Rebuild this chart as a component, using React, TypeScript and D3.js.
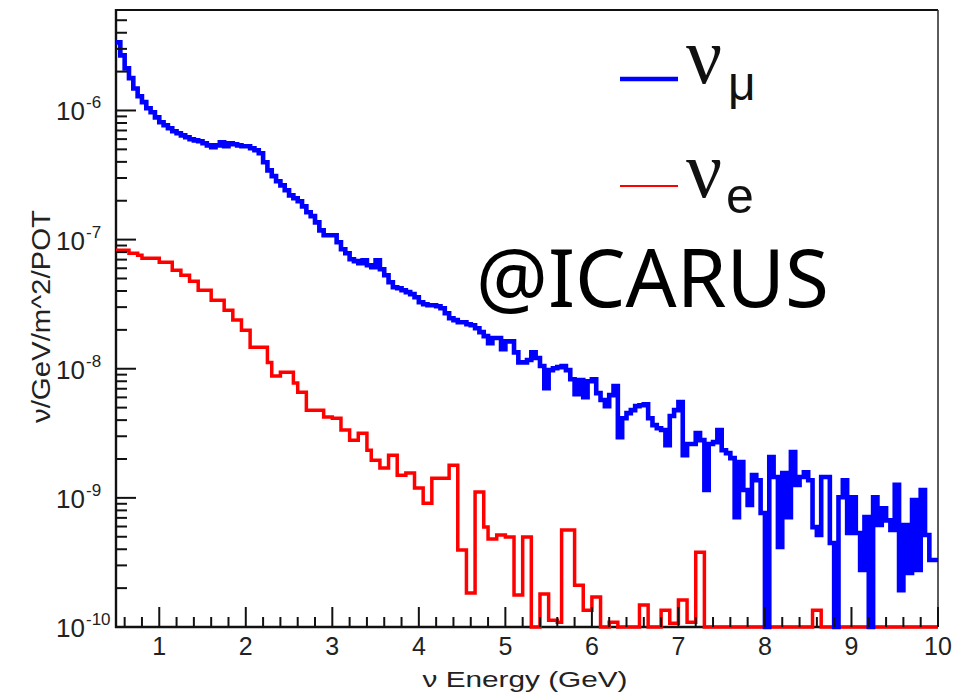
import React from 'react';
import * as d3 from 'd3';

// Histogram binning (GeV)
const BIN_LOW = 0.5;
const BIN_WIDTH = 0.05;

// nu_mu flux per bin (nu/GeV/m^2/POT)
const numuFlux = [
  3.37e-6, 2.67e-6, 2.12e-6, 1.78e-6, 1.48e-6, 1.29e-6, 1.16e-6, 1.04e-6, 9.68e-7, 8.85e-7,
  8.1e-7, 7.68e-7, 7.29e-7, 6.9e-7, 6.66e-7, 6.42e-7, 6.2e-7, 5.98e-7, 5.87e-7, 5.77e-7,
  5.57e-7, 5.37e-7, 5.19e-7, 5.37e-7, 5.67e-7, 5.28e-7, 5.57e-7, 5.47e-7, 5.37e-7, 5.28e-7,
  5.28e-7, 5.1e-7, 4.92e-7, 4.66e-7, 3.97e-7, 3.44e-7, 3.1e-7, 2.83e-7, 2.63e-7, 2.41e-7,
  2.2e-7, 2.09e-7, 1.98e-7, 1.81e-7, 1.63e-7, 1.52e-7, 1.36e-7, 1.18e-7, 1.08e-7, 1.08e-7,
  1.08e-7, 9.55e-8, 8.42e-8, 7.84e-8, 7.05e-8, 6.81e-8, 6.56e-8, 6.93e-8, 6.33e-8, 6.11e-8,
  6.93e-8, 5.9e-8, 5.3e-8, 4.68e-8, 4.28e-8, 4.2e-8, 4.05e-8, 3.92e-8, 3.78e-8, 3.58e-8,
  3.27e-8, 3.16e-8, 3.1e-8, 3.1e-8, 3.05e-8, 2.94e-8, 2.69e-8, 2.46e-8, 2.38e-8, 2.29e-8,
  2.29e-8, 2.21e-8, 2.17e-8, 2.06e-8, 1.92e-8, 1.79e-8, 1.58e-8, 1.73e-8, 1.73e-8, 1.42e-8,
  1.63e-8, 1.63e-8, 1.34e-8, 1.12e-8, 1.12e-8, 1.17e-8, 1.34e-8, 1.21e-8, 1.05e-8, 7.07e-9,
  9.75e-9, 1.01e-8, 1.03e-8, 1.05e-8, 9.75e-9, 8.3e-9, 6.36e-9, 8.17e-9, 6.03e-9, 8.0e-9,
  8.3e-9, 6.47e-9, 5.72e-9, 5.13e-9, 6.25e-9, 7.33e-9, 2.95e-9, 4.14e-9, 4.53e-9, 4.78e-9,
  5.13e-9, 5.22e-9, 5.31e-9, 4.14e-9, 3.66e-9, 3.46e-9, 3.35e-9, 2.56e-9, 4.3e-9, 4.78e-9,
  5.52e-9, 2.14e-9, 2.61e-9, 2.61e-9, 3.17e-9, 2.8e-9, 1.15e-9, 2.61e-9, 2.7e-9, 3.35e-9,
  2.34e-9, 2.22e-9, 2.03e-9, 7.09e-10, 1.89e-9, 1.15e-9, 8.8e-10, 1.5e-9, 1.37e-9, 7.63e-10,
  0, 2.07e-9, 1.45e-9, 4.16e-10, 1.56e-9, 7.09e-10, 2.26e-9, 1.26e-9, 1.45e-9, 1.58e-9,
  1.37e-9, 5.94e-10, 5.16e-10, 1.45e-9, 1.45e-9, 4.47e-10, 0, 1.01e-9, 1.37e-9, 5.34e-10,
  1.01e-9, 5.34e-10, 2.76e-10, 7.09e-10, 0, 1.01e-9, 6.16e-10, 8.32e-10, 6.7e-10, 5.64e-10,
  1.26e-9, 1.93e-10, 6.16e-10, 2.62e-10, 9.6e-10, 2.76e-10, 1.15e-9, 5.16e-10, 3.3e-10, 3.3e-10,
];

// nu_e flux per bin (nu/GeV/m^2/POT)
const nueFlux = [
  8.27e-8, 8.27e-8, 8.27e-8, 7.84e-8, 7.84e-8, 7.57e-8, 7.17e-8, 7.17e-8, 7.17e-8, 7.17e-8,
  6.68e-8, 6.68e-8, 6.68e-8, 5.79e-8, 5.79e-8, 5.3e-8, 5.3e-8, 4.76e-8, 4.76e-8, 4.05e-8,
  4.05e-8, 4.05e-8, 3.39e-8, 3.39e-8, 3.39e-8, 2.84e-8, 2.84e-8, 2.38e-8, 2.38e-8, 1.99e-8,
  1.99e-8, 1.47e-8, 1.47e-8, 1.47e-8, 1.47e-8, 1.12e-8, 8.77e-9, 8.77e-9, 9.4e-9, 9.4e-9,
  9.4e-9, 7.74e-9, 6.58e-9, 6.58e-9, 4.78e-9, 4.78e-9, 4.78e-9, 4.78e-9, 4.22e-9, 4.22e-9,
  4.14e-9, 4.14e-9, 3.35e-9, 3.35e-9, 2.8e-9, 2.8e-9, 3.17e-9, 3.17e-9, 2.34e-9, 1.96e-9,
  1.96e-9, 1.7e-9, 1.7e-9, 2.14e-9, 2.14e-9, 1.5e-9, 1.5e-9, 1.56e-9, 1.56e-9, 1.19e-9,
  1.19e-9, 9.1e-10, 9.1e-10, 1.42e-9, 1.42e-9, 1.42e-9, 1.42e-9, 1.79e-9, 1.79e-9, 3.94e-10,
  3.94e-10, 1.83e-10, 1.83e-10, 1.11e-9, 1.11e-9, 5.94e-10, 4.8e-10, 4.8e-10, 5.16e-10, 5.16e-10,
  4.97e-10, 4.97e-10, 1.77e-10, 1.77e-10, 4.97e-10, 4.97e-10, 0, 0, 1.8e-10, 1.8e-10,
  1.13e-10, 1.13e-10, 1.09e-10, 5.64e-10, 5.64e-10, 5.64e-10, 2.11e-10, 2.11e-10, 1.35e-10, 1.35e-10,
  1.71e-10, 1.71e-10, 0, 0, 1.09e-10, 1.09e-10, 0, 0, 0, 0,
  0, 1.48e-10, 1.48e-10, 0, 0, 0, 1.35e-10, 1.35e-10, 1.07e-10, 1.07e-10,
  1.62e-10, 1.62e-10, 1.09e-10, 1.09e-10, 3.8e-10, 3.8e-10, 0, 0, 0, 0,
  0, 0, 0, 0, 0, 0, 0, 0, 0, 0,
  0, 0, 0, 0, 0, 0, 0, 0, 0, 0,
  0, 1.35e-10, 1.35e-10, 0, 0, 0, 0, 0, 0, 0,
  0, 0, 0, 0, 0, 0, 0, 0, 0, 0,
  0, 0, 0, 0, 0, 0, 0, 0, 0, 0,
];

const xTickLabels = ['1', '2', '3', '4', '5', '6', '7', '8', '9', '10'];
const yDecadeExponents = [-10, -9, -8, -7, -6];

const W = 971;
const H = 693;

export default function App() {
  const x = d3.scaleLinear().domain([0.5, 10]).range([116, 938]);
  const y = d3.scaleLog().domain([1e-10, 6e-6]).range([627, 10]);
  const [yMin, yMax] = y.domain();
  const [x0, x1] = x.range();
  const [yb, yt] = y.range();

  const stepPoints = (vals: number[]): [number, number][] =>
    vals.flatMap((v, i) => {
      const lo = BIN_LOW + i * BIN_WIDTH;
      const hi = lo + BIN_WIDTH;
      const vv = Math.max(v, yMin);
      return [[lo, vv], [hi, vv]] as [number, number][];
    });

  const line = d3
    .line<[number, number]>()
    .x((d) => x(d[0]))
    .y((d) => y(d[1]));

  const xMinor = d3
    .range(6, 100, 2)
    .map((k) => k / 10)
    .filter((v) => Math.abs(v - Math.round(v)) > 1e-6);

  const yMinor: number[] = [];
  yDecadeExponents.forEach((e) => {
    for (let m = 2; m <= 9; m++) {
      const v = m * Math.pow(10, e);
      if (v <= yMax * 1.0001) yMinor.push(v);
    }
  });

  const sans = "'Liberation Sans', Arial, Helvetica, sans-serif";
  const serif = "'Liberation Serif', 'Times New Roman', serif";

  return (
    <svg
      width={W}
      height={H}
      style={{ position: 'absolute', left: 0, top: 0, background: '#fff' }}
    >
      <rect x={0} y={0} width={W} height={H} fill="#fff" />
      {/* frame */}
      <line x1={x0} x2={x1} y1={yt} y2={yt} stroke="#111" strokeWidth={2} />
      <line x1={x1} x2={x1} y1={yt} y2={yb} stroke="#333" strokeWidth={1.6} />
      <line x1={x0} x2={x0} y1={yt - 1} y2={yb + 1} stroke="#111" strokeWidth={2.4} />
      <line x1={x0 - 1} x2={x1} y1={yb} y2={yb} stroke="#111" strokeWidth={2.4} />

      {/* histograms */}
      <path
        d={line(stepPoints(nueFlux)) || ''}
        fill="none"
        stroke="#ff0000"
        strokeWidth={3.5}
        strokeLinejoin="miter"
      />
      <path
        d={line(stepPoints(numuFlux)) || ''}
        fill="none"
        stroke="#0000ff"
        strokeWidth={4.6}
        strokeLinejoin="miter"
      />

      {/* x ticks */}
      {xTickLabels.map((t) => (
        <line key={'xM' + t} x1={x(+t)} x2={x(+t)} y1={yb} y2={yb - 20} stroke="#111" strokeWidth={2} />
      ))}
      {xMinor.map((v) => (
        <line key={'xm' + v} x1={x(v)} x2={x(v)} y1={yb} y2={yb - 10} stroke="#111" strokeWidth={2} />
      ))}
      {xTickLabels.map((t) => (
        <text
          key={'xl' + t}
          x={x(+t)}
          y={655}
          textAnchor="middle"
          fontFamily={sans}
          fontSize={25}
          fill="#222"
        >
          {t}
        </text>
      ))}

      {/* y ticks */}
      {yDecadeExponents.map((e) => (
        <line
          key={'yM' + e}
          x1={x0}
          x2={x0 + 20}
          y1={y(Math.pow(10, e))}
          y2={y(Math.pow(10, e))}
          stroke="#111"
          strokeWidth={2}
        />
      ))}
      {yMinor.map((v) => (
        <line key={'ym' + v} x1={x0} x2={x0 + 11} y1={y(v)} y2={y(v)} stroke="#111" strokeWidth={2} />
      ))}
      {yDecadeExponents.map((e) => {
        const yy = y(Math.pow(10, e));
        return (
          <g key={'yl' + e} fontFamily={sans} fill="#222">
            <text x={85} y={yy + 10} textAnchor="end" fontSize={26}>
              10
            </text>
            <text x={86} y={yy - 2} textAnchor="start" fontSize={17}>
              {String(e)}
            </text>
          </g>
        );
      })}

      {/* axis titles */}
      <text
        x={525}
        y={687}
        textAnchor="middle"
        fontFamily={sans}
        fontSize={22}
        fill="#222"
        textLength={205}
        lengthAdjust="spacingAndGlyphs"
      >
        ν Energy (GeV)
      </text>
      <text
        transform={`translate(50, ${(yt + yb) / 2 - 2}) rotate(-90)`}
        textAnchor="middle"
        fontFamily={sans}
        fontSize={25}
        fill="#222"
        textLength={213}
        lengthAdjust="spacingAndGlyphs"
      >
        ν/GeV/m^2/POT
      </text>

      {/* legend */}
      <line x1={620} x2={678} y1={79} y2={79} stroke="#0000ff" strokeWidth={4.5} />
      <text x={686} y={83} fontFamily={serif} fontSize={80} fill="#111">
        ν
      </text>
      <text x={728} y={100} fontFamily={sans} fontSize={48} fill="#111">
        μ
      </text>
      <line x1={620} x2={678} y1={186} y2={186} stroke="#ff0000" strokeWidth={2.2} />
      <text x={686} y={197} fontFamily={serif} fontSize={80} fill="#111">
        ν
      </text>
      <text x={726} y={213} fontFamily={sans} fontSize={50} fill="#111">
        e
      </text>

      <text x={476} y={307} fontFamily="'Noto Sans', 'Open Sans', sans-serif" fontSize={80} fill="#000">
        @ICARUS
      </text>
    </svg>
  );
}
